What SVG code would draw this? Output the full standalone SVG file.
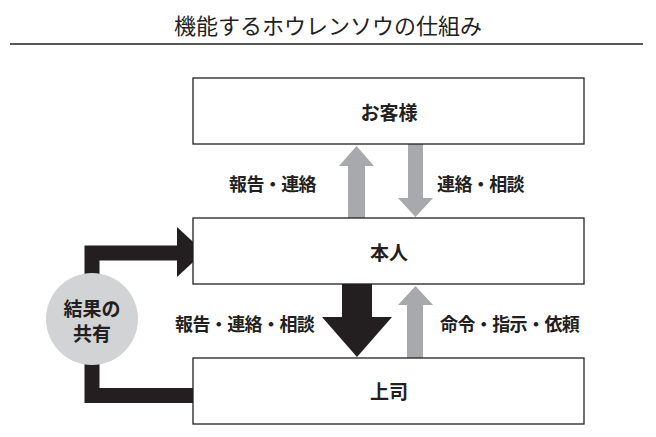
<svg xmlns="http://www.w3.org/2000/svg" width="656" height="437" viewBox="0 0 656 437">
<style>
text{font-family:"Noto Sans CJK JP","Noto Sans",sans-serif;fill:#231f20;dominant-baseline:central;}
.title{font-size:22px;font-weight:400;text-anchor:middle;}
.box{fill:#fff;stroke:#231f20;stroke-width:1.3;}
.bl{font-size:19px;font-weight:700;text-anchor:middle;}
.lbl{font-size:18px;font-weight:700;letter-spacing:-0.6px;}
.grey{fill:#a7a9ac;}
.black{fill:#231f20;}
</style>
<rect width="656" height="437" fill="#fff"/>
<text class="title" x="328" y="24">機能するホウレンソウの仕組み</text>
<line x1="10" y1="44" x2="643" y2="44" stroke="#231f20" stroke-width="1.5"/>

<g id="connectors">
  <path d="M193,395.5 H92 V253 H180" fill="none" stroke="#231f20" stroke-width="15" stroke-linejoin="miter"/>
  <polygon class="black" points="177,227 204,252 177,277"/>
  <polygon class="grey" points="348,218 348,166 339,166 356.5,146 374,166 365,166 365,218"/>
  <polygon class="grey" points="408,144 408,198 398,198 415.5,217 433,198 423,198 423,144"/>
  <polygon class="black" points="342,284 342,317 322,317 357,357 392,317 372,317 372,284"/>
  <polygon class="grey" points="407,358 407,305 398,305 415.5,286 433,305 423,305 423,358"/>
</g>

<g id="node-customer">
  <rect class="box" x="193" y="78" width="391" height="66"/>
  <text class="bl" x="389" y="111">お客様</text>
</g>
<g id="node-self">
  <rect class="box" x="193" y="218" width="391" height="66"/>
  <text class="bl" x="389" y="251">本人</text>
</g>
<g id="node-boss">
  <rect class="box" x="193" y="358" width="391" height="66"/>
  <text class="bl" x="389" y="390">上司</text>
</g>
<g id="node-share">
  <circle cx="92" cy="319" r="46" fill="#d1d3d4"/>
  <text class="bl" x="92" y="307">結果の</text>
  <text class="bl" x="92" y="332">共有</text>
</g>

<g id="labels">
  <text class="lbl" x="229" y="183">報告・連絡</text>
  <text class="lbl" x="437" y="183">連絡・相談</text>
  <text class="lbl" x="175" y="323">報告・連絡・相談</text>
  <text class="lbl" x="440" y="323">命令・指示・依頼</text>
</g>
</svg>
